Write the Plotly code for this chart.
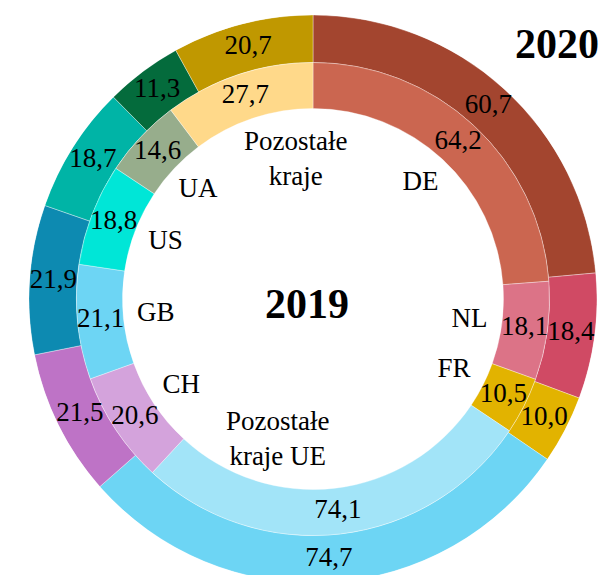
import numpy as np
import plotly.graph_objects as go

categories = ["DE", "NL", "FR", "Pozostałe kraje UE", "CH", "GB", "US", "UA", "Pozostałe kraje"]
label_text = ["DE", "NL", "FR", "", "CH", "GB", "US", "UA", ""]
values_2020 = [60.7, 18.4, 10.0, 74.7, 21.5, 21.9, 18.7, 11.3, 20.7]
values_2019 = [64.2, 18.1, 10.5, 74.1, 20.6, 21.1, 18.8, 14.6, 27.7]

colors_2020 = ["#A3452F", "#D04A64", "#E2B300", "#6DD5F4", "#BE73C6",
               "#0D8AB1", "#00B4A6", "#046B3C", "#C09800"]
colors_2019 = ["#CB6650", "#DC7387", "#E2B300", "#A2E4F8", "#D4A3DC",
               "#6DD5F4", "#00E6D7", "#97AD8C", "#FFD98A"]

FONT = "Liberation Serif"
TEXT_SIZE = 27
W, H = 600, 590
CX, CY = 313, 299
R_OUT, R_MID, R_IN = 284, 236.5, 190.5
R_NAMES = 158


def shares(vals):
    v = np.asarray(vals, dtype=float)
    tot = v.sum()
    width = v / tot * 360.0
    mid = (np.cumsum(v) - v / 2) / tot * 360.0
    return mid, width


def fmt(v):
    return f"{v:.1f}".replace(".", ",")


mid20, w20 = shares(values_2020)
mid19, w19 = shares(values_2019)
n = len(categories)
seam = dict(color="rgba(255,255,255,0.6)", width=0.6)

fig = go.Figure()
fig.add_trace(go.Barpolar(theta=mid20, width=w20, base=[R_MID] * n,
                          r=[R_OUT - R_MID] * n, name="2020",
                          marker=dict(color=colors_2020, line=seam),
                          customdata=values_2020, hovertext=categories,
                          hovertemplate="%{hovertext}: %{customdata}<extra>2020</extra>"))
fig.add_trace(go.Barpolar(theta=mid19, width=w19, base=[R_IN] * n,
                          r=[R_MID - R_IN] * n, name="2019",
                          marker=dict(color=colors_2019, line=seam),
                          customdata=values_2019, hovertext=categories,
                          hovertemplate="%{hovertext}: %{customdata}<extra>2019</extra>"))

txtfont = dict(family=FONT, size=TEXT_SIZE, color="black")
fig.add_trace(go.Scatterpolar(theta=mid20, r=[(R_OUT + R_MID) / 2] * n, mode="text",
                              text=[fmt(v) for v in values_2020], textfont=txtfont,
                              textposition="middle center", hoverinfo="skip"))
fig.add_trace(go.Scatterpolar(theta=mid19, r=[(R_MID + R_IN) / 2] * n, mode="text",
                              text=[fmt(v) for v in values_2019], textfont=txtfont,
                              textposition="middle center", hoverinfo="skip"))
fig.add_trace(go.Scatterpolar(theta=mid19, r=[R_NAMES] * n, mode="text",
                              text=label_text, textfont=txtfont,
                              textposition="middle center", hoverinfo="skip"))


def px(x, y):
    return x / W, (H - y) / H


annots = [
    ("<b>2019</b>", 307, 304, 42),
    ("<b>2020</b>", 557, 44, 42),
    ("Pozostałe<br>kraje", 295, 158, TEXT_SIZE),
    ("Pozostałe<br>kraje UE", 277, 438, TEXT_SIZE),
]
for t, x, y, s in annots:
    ax, ay = px(x, y)
    fig.add_annotation(text=t, x=ax, y=ay, xref="paper", yref="paper",
                       showarrow=False, xanchor="center", yanchor="middle",
                       font=dict(family=FONT, size=s, color="black"))

fig.update_layout(
    width=W, height=H, margin=dict(l=0, r=0, t=0, b=0, pad=0),
    showlegend=False, paper_bgcolor="white", font=dict(family=FONT),
    polar=dict(
        domain=dict(x=[(CX - R_OUT) / W, (CX + R_OUT) / W],
                    y=[(H - CY - R_OUT) / H, (H - CY + R_OUT) / H]),
        bgcolor="rgba(0,0,0,0)", hole=0, bargap=0,
        radialaxis=dict(range=[0, R_OUT], visible=False, showgrid=False),
        angularaxis=dict(rotation=90, direction="clockwise", visible=False,
                         showgrid=False, showline=False, ticks=""),
    ),
)

fig.write_html("out.html", config={"displayModeBar": False}, post_script=(
    "document.body.style.margin='0';"
    "document.body.style.overflow='hidden';"
    "document.documentElement.style.overflow='hidden';"))
